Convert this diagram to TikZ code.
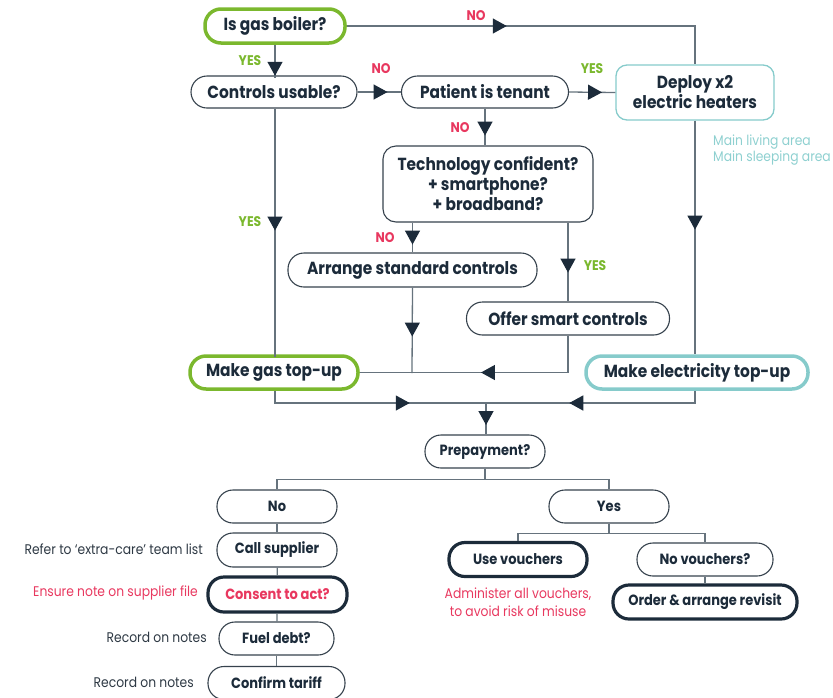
\documentclass[tikz,border=0pt]{standalone}
\usepackage{fontspec}
\setmainfont{Poppins}[FakeStretch=0.88]
\usetikzlibrary{arrows.meta,decorations.markings}
\definecolor{ink}{HTML}{1C2B3A}
\definecolor{edge}{HTML}{36424D}
\definecolor{wire}{HTML}{66737D}
\definecolor{grn}{HTML}{7BB82E}
\definecolor{rd}{HTML}{E8385F}
\definecolor{tl}{HTML}{86CBCB}
\definecolor{tltext}{HTML}{8ED0D0}
\definecolor{notes}{HTML}{2E3944}
\newcommand{\mainb}{\fontsize{17.5}{20}\selectfont\bfseries}
\newcommand{\smallb}{\fontsize{14.8}{18}\selectfont\bfseries}
\newcommand{\lbl}{\fontsize{14}{15}\selectfont\bfseries}
\newcommand{\notefont}{\fontsize{14}{18}\selectfont}
\begin{document}
\begin{tikzpicture}[x=1pt,y=-1pt,
  pill/.style={draw=edge, line width=1.1pt, text=ink, font=\mainb, inner sep=0pt, rounded corners=16pt, align=center},
  spill/.style={pill, font=\smallb},
  greenbox/.style={line width=3.5pt, draw=grn},
  tealbox/.style={line width=3.5pt, draw=tl},
  darkbox/.style={line width=3.2pt, draw=ink},
  ln/.style={draw=wire, line width=1.3pt},
  arrowat/.style={postaction={decorate,decoration={markings,mark=at position #1 with {\arrow{Triangle[length=14pt,width=15pt,color=ink]}}}}},
  yes/.style={text=grn, font=\lbl, inner sep=0pt},
  no/.style={text=rd, font=\lbl, inner sep=0pt},
  note/.style={font=\notefont, text=notes, inner sep=0pt, anchor=east},
]
\useasboundingbox (0,0) rectangle (833,697);

% nodes
\node[pill, greenbox, minimum width=140pt, minimum height=34pt] (gas) at (275,26) {Is gas boiler?};
\node[pill, minimum width=166pt, minimum height=32pt] (ctrl) at (274,92) {Controls usable?};
\node[pill, minimum width=167pt, minimum height=32pt] (tenant) at (485,92) {Patient is tenant};
\node[pill, draw=tl, line width=1.3pt, rounded corners=11pt, minimum width=158pt, minimum height=55pt] (deploy) at (695,92.5) {Deploy x2\\electric heaters};
\node[font=\fontsize{14}{16}\selectfont, text=tltext, anchor=north west, align=left, inner sep=0pt] (areas) at (713,135) {Main living area\\Main sleeping area};
\node[pill, rounded corners=13pt, minimum width=210pt, minimum height=76pt] (tech) at (488,184) {Technology confident?\\+ smartphone?\\+ broadband?};
\node[pill, minimum width=249pt, minimum height=34pt] (arrange) at (412.5,270) {Arrange standard controls};
\node[pill, minimum width=203pt, minimum height=33pt] (offer) at (568,318.5) {Offer smart controls};
\node[pill, greenbox, minimum width=168pt, minimum height=33pt] (gastop) at (274,372.5) {Make gas top-up};
\node[pill, tealbox, minimum width=222pt, minimum height=33pt] (electop) at (697,372.5) {Make electricity top-up};

\node[spill, minimum width=120pt, minimum height=33pt] (prepay) at (485,451.5) {Prepayment?};
\node[spill, minimum width=120pt, minimum height=33pt] (no) at (277,506.5) {No};
\node[spill, minimum width=120pt, minimum height=33pt] (yes) at (609,506.5) {Yes};
\node[spill, minimum width=120pt, minimum height=34pt] (call) at (277,550) {Call supplier};
\node[spill, darkbox, text=rd, minimum width=139pt, minimum height=35pt] (consent) at (277.5,594.5) {Consent to act?};
\node[spill, minimum width=115pt, minimum height=33pt] (fuel) at (276.5,638.5) {Fuel debt?};
\node[spill, minimum width=137pt, minimum height=33pt] (tariff) at (276.5,683) {Confirm tariff};
\node[spill, darkbox, minimum width=138pt, minimum height=34pt] (usev) at (518,559.5) {Use vouchers};
\node[spill, minimum width=136pt, minimum height=33pt] (novouch) at (705,559.5) {No vouchers?};
\node[spill, darkbox, minimum width=184pt, minimum height=34pt] (order) at (705,602) {Order \& arrange revisit};

% side notes
\node[note] (n1) at (203,549) {Refer to ‘extra-care’ team list};
\node[note, text=rd] (n2) at (198,593) {Ensure note on supplier file};
\node[note] (n3) at (207,637) {Record on notes};
\node[note] (n4) at (194,682) {Record on notes};
\node[font=\fontsize{14}{18}\selectfont, text=rd, align=center, inner sep=0pt] (misuse) at (518,602) {Administer all vouchers,\\to avoid risk of misuse};

% labels
\node[no] at (476,16) {NO};
\node[yes] at (250,61) {YES};
\node[no] at (381,69) {NO};
\node[yes] at (592,69) {YES};
\node[no] at (460,128) {NO};
\node[no] at (385,238) {NO};
\node[yes] at (595,266) {YES};
\node[yes] at (250,222) {YES};

% junction coordinates
\coordinate (jl) at (412,373);
\coordinate (jb) at (486,403);

% connectors
\draw[ln, arrowat=160pt] (gas.east) -| (deploy.north);
\draw[ln, arrowat=31pt] (gas.south -| ctrl.north) ++(1,0) -- ++(0,33);
\draw[ln, arrowat=30pt] (ctrl.east) -- (tenant.west);
\draw[ln, arrowat=33pt] (tenant.east) -- (deploy.west);
\draw[ln, arrowat=27pt] (tenant.south) -- (tenant.south |- tech.north);
\draw[ln, arrowat=22pt] (arrange.north |- tech.south) -- (arrange.north);
\draw[ln, arrowat=50pt] (offer.north |- tech.south) -- (offer.north);
\draw[ln, arrowat=122pt] (ctrl.south) ++(1,0) -- ++(0,248);
\draw[ln, arrowat=109pt] (deploy.south) -- (deploy.south |- electop.north);
\draw[ln, arrowat=49pt] (arrange.south) -- (jl);
\draw[ln, arrowat=124pt] (offer.south) |- (gastop.east);
\draw[ln, arrowat=147pt] (gastop.south) ++(1,0) |- (jb);
\draw[ln, arrowat=138pt] (deploy.south |- electop.south) |- (jb);
\draw[ln, arrowat=22pt] (jb) -- (jb |- prepay.north);
\draw[ln] (prepay.south) -- ++(0,11) -| (no.north);
\draw[ln] (prepay.south) -- ++(0,11) -| (yes.north);
\draw[ln] (no) -- (call);
\draw[ln] (call) -- (consent);
\draw[ln] (consent) -- (fuel);
\draw[ln] (fuel) -- (tariff);
\draw[ln] (yes.south) -- ++(0,10) -| (usev.north);
\draw[ln] (yes.south) -- ++(0,10) -| (novouch.north);
\draw[ln] (novouch) -- (order);
\end{tikzpicture}
\end{document}
